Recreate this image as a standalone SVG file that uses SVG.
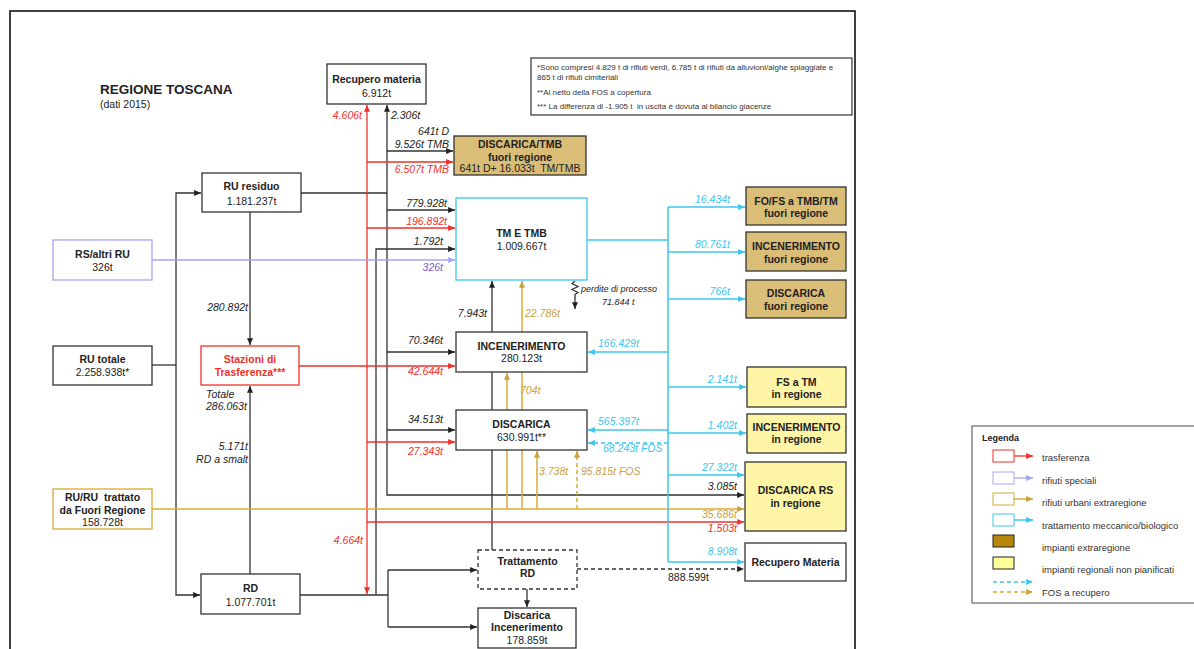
<svg xmlns="http://www.w3.org/2000/svg" width="1194" height="649" viewBox="0 0 1194 649">
<style>
text{font-family:"Liberation Sans",Arial,sans-serif;fill:#222;white-space:pre}
.b{font-weight:bold;font-size:10.5px}
.v{font-size:10.5px}
.t{font-size:10.5px;text-anchor:middle}
.tb{font-size:10.5px;font-weight:bold;text-anchor:middle}
.l{font-size:10.5px;font-style:italic}
.r{text-anchor:end}
.red{fill:#F0302A}
.cy{fill:#3CC6EE}
.go{fill:#C9A13E}
.pu{fill:#7B5CC8}
.box{fill:#fff;stroke:#333;stroke-width:1.3}
.tan{fill:#DABD76;stroke:#333;stroke-width:1.3}
.yel{fill:#FFF5A6;stroke:#333;stroke-width:1.3}
.k{fill:none;stroke:#333;stroke-width:1.3}
.kr{fill:none;stroke:#F0302A;stroke-width:1.3}
.kc{fill:none;stroke:#3CC6EE;stroke-width:1.5}
.kg{fill:none;stroke:#D8AA36;stroke-width:1.5}
.kp{fill:none;stroke:#A6A6F5;stroke-width:1.3}
.d{stroke-dasharray:4 3}
.n{font-size:8px;fill:#333}
.lg{font-size:9.5px;fill:#333}
</style>
<defs>
<marker id="ak" viewBox="0 0 8 7" refX="8" refY="3.5" markerWidth="7" markerHeight="6" markerUnits="userSpaceOnUse" orient="auto"><path d="M0,0 L8,3.5 L0,7 z" fill="#222"/></marker>
<marker id="ar" viewBox="0 0 8 7" refX="8" refY="3.5" markerWidth="7" markerHeight="6" markerUnits="userSpaceOnUse" orient="auto"><path d="M0,0 L8,3.5 L0,7 z" fill="#F0302A"/></marker>
<marker id="ac" viewBox="0 0 8 7" refX="8" refY="3.5" markerWidth="7" markerHeight="6" markerUnits="userSpaceOnUse" orient="auto"><path d="M0,0 L8,3.5 L0,7 z" fill="#3CC6EE"/></marker>
<marker id="ag" viewBox="0 0 8 7" refX="8" refY="3.5" markerWidth="7" markerHeight="6" markerUnits="userSpaceOnUse" orient="auto"><path d="M0,0 L8,3.5 L0,7 z" fill="#C9A13E"/></marker>
<marker id="ap" viewBox="0 0 8 7" refX="8" refY="3.5" markerWidth="7" markerHeight="6" markerUnits="userSpaceOnUse" orient="auto"><path d="M0,0 L8,3.5 L0,7 z" fill="#A6A6F5"/></marker>
</defs>
<rect width="1194" height="649" fill="#fff"/>
<rect x="10" y="11" width="845" height="660" fill="none" stroke="#111" stroke-width="1.6"/>
<text x="100" y="94" style="font-size:13.5px;font-weight:bold">REGIONE TOSCANA</text>
<text x="100" y="108" style="font-size:10.5px">(dati 2015)</text>

<g id="connectors">
<!-- black -->
<path class="k" d="M152,365 H176"/>
<path class="k" d="M176,365 V193 H201" marker-end="url(#ak)"/>
<path class="k" d="M176,365 V595 H200" marker-end="url(#ak)"/>
<path class="k" d="M301,193 H387"/>
<path class="k" d="M387,193 V105" marker-end="url(#ak)"/>
<path class="k" d="M387,193 V495 H744" marker-end="url(#ak)"/>
<path class="k" d="M387,151 H453" marker-end="url(#ak)"/>
<path class="k" d="M387,210 H455" marker-end="url(#ak)"/>
<path class="k" d="M387,352 H455" marker-end="url(#ak)"/>
<path class="k" d="M387,430 H455" marker-end="url(#ak)"/>
<path class="k" d="M250,212 V345" marker-end="url(#ak)"/>
<path class="k" d="M250,574 V386" marker-end="url(#ak)"/>
<path class="k" d="M300,595 H388"/>
<path class="k" d="M376,595 V249 H455" marker-end="url(#ak)"/>
<path class="k" d="M388,570 V627"/>
<path class="k" d="M388,570 H477" marker-end="url(#ak)"/>
<path class="k" d="M388,627 H477" marker-end="url(#ak)"/>
<path class="k" d="M492,550 V281" marker-end="url(#ak)"/>
<path class="k" d="M527,589 V607" marker-end="url(#ak)"/>
<path class="k d" d="M577,569 H744" marker-end="url(#ak)"/>
<path class="k" d="M575,281 l-3,2.5 l6,3 l-6,3 l6,3 l-3,2 V309" marker-end="url(#ak)"/>
<!-- red -->
<path class="kr" d="M299,366 H455" marker-end="url(#ar)"/>
<path class="kr" d="M367,366 V105" marker-end="url(#ar)"/>
<path class="kr" d="M367,366 V594" marker-end="url(#ar)"/>
<path class="kr" d="M367,162 H453" marker-end="url(#ar)"/>
<path class="kr" d="M367,228 H455" marker-end="url(#ar)"/>
<path class="kr" d="M367,442 H455" marker-end="url(#ar)"/>
<path class="kr" d="M367,522 H744" marker-end="url(#ar)"/>
<!-- purple -->
<path class="kp" d="M152,260 H455" marker-end="url(#ap)"/>
<!-- gold -->
<path class="kg" d="M152,509 H744" marker-end="url(#ag)"/>
<path class="kg" d="M507,509 V373" marker-end="url(#ag)"/>
<path class="kg" d="M522,509 V281" marker-end="url(#ag)"/>
<path class="kg" d="M537,509 V451" marker-end="url(#ag)"/>
<path class="kg d" d="M577,509 V451" marker-end="url(#ag)"/>
<!-- cyan -->
<path class="kc" d="M587,240 H668"/>
<path class="kc" d="M668,207 V562"/>
<path class="kc" d="M668,207 H745" marker-end="url(#ac)"/>
<path class="kc" d="M668,252 H745" marker-end="url(#ac)"/>
<path class="kc" d="M668,299 H745" marker-end="url(#ac)"/>
<path class="kc" d="M668,387 H746" marker-end="url(#ac)"/>
<path class="kc" d="M668,433 H746" marker-end="url(#ac)"/>
<path class="kc" d="M668,475 H744" marker-end="url(#ac)"/>
<path class="kc" d="M668,562 H744" marker-end="url(#ac)"/>
<path class="kc" d="M668,352 H588" marker-end="url(#ac)"/>
<path class="kc" d="M668,430 H588" marker-end="url(#ac)"/>
<path class="kc d" d="M668,443 H588" marker-end="url(#ac)"/>
</g>

<g id="flow-labels">
<text class="l red r" x="362" y="119">4.606t</text>
<text class="l" x="391" y="119">2.306t</text>
<text class="l r" x="449" y="135">641t D</text>
<text class="l r" x="449" y="148">9.526t TMB</text>
<text class="l red r" x="449" y="173">6.507t TMB</text>
<text class="l r" x="447" y="207">779.928t</text>
<text class="l red r" x="447" y="225">196.892t</text>
<text class="l r" x="443" y="245">1.792t</text>
<text class="l pu r" x="443" y="271">326t</text>
<text class="l r" x="487" y="317">7.943t</text>
<text class="l go" x="525" y="317">22.786t</text>
<text class="l" x="581" y="292" style="font-size:9px">perdite di processo</text>
<text class="l" x="602" y="305" style="font-size:9px">71.844 t</text>
<text class="l r" x="443" y="344">70.346t</text>
<text class="l red r" x="443" y="375">42.644t</text>
<text class="l cy" x="598" y="347">166.429t</text>
<text class="l go" x="520" y="394">704t</text>
<text class="l r" x="443" y="423">34.513t</text>
<text class="l red r" x="443" y="455">27.343t</text>
<text class="l cy" x="598" y="425">565.397t</text>
<text class="l cy" x="603" y="452">68.243t FOS</text>
<text class="l go" x="539" y="475">3.738t</text>
<text class="l go" x="581" y="475">95.815t FOS</text>
<text class="l cy r" x="730" y="203">16.434t</text>
<text class="l cy r" x="730" y="248">80.761t</text>
<text class="l cy r" x="730" y="295">766t</text>
<text class="l cy r" x="737" y="383">2.141t</text>
<text class="l cy r" x="737" y="429">1.402t</text>
<text class="l cy r" x="737" y="471">27.322t</text>
<text class="l r" x="737" y="490">3.085t</text>
<text class="l go r" x="737" y="518">35.686t</text>
<text class="l red r" x="737" y="532">1.503t</text>
<text class="l cy r" x="737" y="555">8.908t</text>
<text class="v" x="668" y="581">888.599t</text>
<text class="l red r" x="363" y="544">4.664t</text>
<text class="l r" x="248" y="311">280.892t</text>
<text class="l" x="206" y="398">Totale</text>
<text class="l" x="206" y="410">286.063t</text>
<text class="l r" x="248" y="450">5.171t</text>
<text class="l r" x="248" y="463">RD a smalt</text>
</g>

<g id="recupero-materia"><rect class="box" x="327" y="64" width="99" height="40"/><text class="tb" x="376.5" y="83">Recupero materia</text><text class="t" x="376.5" y="97">6.912t</text></g>
<g id="discarica-tmb-fuori"><rect class="tan" x="454" y="136" width="132" height="39"/><text class="tb" x="520" y="148">DISCARICA/TMB</text><text class="tb" x="520" y="161">fuori regione</text><text class="t" x="520" y="172">641t D+ 16.033t  TM/TMB</text></g>
<g id="ru-residuo"><rect class="box" x="202" y="173" width="99" height="39"/><text class="tb" x="251.5" y="190">RU residuo</text><text class="t" x="251.5" y="205">1.181.237t</text></g>
<g id="tm-tmb"><rect x="456" y="198" width="131" height="82" fill="#fff" stroke="#3CC6EE" stroke-width="1.3"/><text class="tb" x="521.5" y="237">TM E TMB</text><text class="t" x="521.5" y="250">1.009.667t</text></g>
<g id="rs-altri"><rect x="53" y="240" width="99" height="40" fill="#fff" stroke="#A6A6F5" stroke-width="1.3"/><text class="tb" x="102.5" y="258">RS/altri RU</text><text class="t" x="102.5" y="271">326t</text></g>
<g id="ru-totale"><rect class="box" x="53" y="346" width="99" height="39"/><text class="tb" x="102.5" y="363">RU totale</text><text class="t" x="102.5" y="376">2.258.938t*</text></g>
<g id="stazioni"><rect x="201" y="346" width="98" height="39" fill="#fff" stroke="#F0302A" stroke-width="1.3"/><text class="tb red" x="250" y="363">Stazioni di</text><text class="tb red" x="250" y="376">Trasferenza***</text></g>
<g id="incenerimento"><rect class="box" x="456" y="332" width="131" height="40"/><text class="tb" x="521.5" y="350">INCENERIMENTO</text><text class="t" x="521.5" y="362">280.123t</text></g>
<g id="discarica"><rect class="box" x="456" y="410" width="131" height="40"/><text class="tb" x="521.5" y="428">DISCARICA</text><text class="t" x="521.5" y="441">630.991t**</text></g>
<g id="ru-trattato"><rect x="53" y="489" width="99" height="40" fill="#fff" stroke="#D8AA36" stroke-width="1.3"/><text class="tb" x="102.5" y="501">RU/RU  trattato</text><text class="tb" x="102.5" y="514">da Fuori Regione</text><text class="t" x="102.5" y="526">158.728t</text></g>
<g id="rd"><rect class="box" x="201" y="574" width="99" height="40"/><text class="tb" x="250.5" y="592">RD</text><text class="t" x="250.5" y="606">1.077.701t</text></g>
<g id="trattamento-rd"><rect class="box d" x="478" y="550" width="99" height="39"/><text class="tb" x="527.5" y="565">Trattamento</text><text class="tb" x="527.5" y="577">RD</text></g>
<g id="discarica-incenerimento"><rect class="box" x="478" y="608" width="98" height="40"/><text class="tb" x="527" y="619">Discarica</text><text class="tb" x="527" y="631">Incenerimento</text><text class="t" x="527" y="644">178.859t</text></g>
<g id="fofs-fuori"><rect class="tan" x="746" y="187" width="100" height="38"/><text class="tb" x="796" y="205">FO/FS a TMB/TM</text><text class="tb" x="796" y="217">fuori regione</text></g>
<g id="incen-fuori"><rect class="tan" x="746" y="232" width="100" height="39"/><text class="tb" x="796" y="250">INCENERIMENTO</text><text class="tb" x="796" y="263">fuori regione</text></g>
<g id="disc-fuori"><rect class="tan" x="746" y="280" width="100" height="38"/><text class="tb" x="796" y="297">DISCARICA</text><text class="tb" x="796" y="310">fuori regione</text></g>
<g id="fs-tm-regione"><rect class="yel" x="747" y="367" width="99" height="40"/><text class="tb" x="796.5" y="386">FS a TM</text><text class="tb" x="796.5" y="398">in regione</text></g>
<g id="incen-regione"><rect class="yel" x="747" y="414" width="99" height="39"/><text class="tb" x="796.5" y="431">INCENERIMENTO</text><text class="tb" x="796.5" y="443">in regione</text></g>
<g id="discarica-rs"><rect class="yel" x="745" y="462" width="101" height="69"/><text class="tb" x="795.5" y="494">DISCARICA RS</text><text class="tb" x="795.5" y="507">in regione</text></g>
<g id="recupero-materia-2"><rect class="box" x="745" y="543" width="101" height="38"/><text class="tb" x="795.5" y="566">Recupero Materia</text></g>

<g id="notes"><rect x="531" y="58" width="321" height="57" fill="#fff" stroke="#333" stroke-width="1.2"/>
<text class="n" x="537" y="70">*Sono compresi 4.829 t di rifiuti verdi, 6.785 t di rifiuti da alluvioni/alghe spiaggiate e</text>
<text class="n" x="537" y="80">865 t di rifiuti cimiteriali</text>
<text class="n" x="537" y="95">**Al netto della FOS a copertura</text>
<text class="n" x="537" y="109">*** La differenza di -1.905 t  in uscita è dovuta al bilancio giacenze</text></g>

<g id="legend"><rect x="972" y="426" width="240" height="177" fill="#fff" stroke="#666" stroke-width="1.2"/>
<text x="982" y="441" style="font-size:9px;font-weight:bold;fill:#222">Legenda</text>
<rect x="993" y="450" width="21" height="12" fill="#fff" stroke="#F0302A"/><path class="kr" d="M1014,456 H1033" marker-end="url(#ar)"/><text class="lg" x="1042" y="461">trasferenza</text>
<rect x="993" y="472" width="21" height="12" fill="#fff" stroke="#A6A6F5"/><path class="kp" d="M1014,478 H1033" marker-end="url(#ap)"/><text class="lg" x="1042" y="484">rifiuti speciali</text>
<rect x="993" y="493" width="21" height="12" fill="#fff" stroke="#D8AA36"/><path class="kg" d="M1014,499 H1033" marker-end="url(#ag)"/><text class="lg" x="1042" y="506">rifiuti urbani extraregione</text>
<rect x="993" y="514" width="21" height="12" fill="#fff" stroke="#3CC6EE"/><path class="kc" d="M1014,520 H1033" marker-end="url(#ac)"/><text class="lg" x="1042" y="529">trattamento meccanico/biologico</text>
<rect x="993" y="535" width="21" height="12" fill="#B8860B" stroke="#222"/><text class="lg" x="1042" y="551">impianti extraregione</text>
<rect x="993" y="557" width="21" height="12" fill="#FFFF99" stroke="#222"/><text class="lg" x="1042" y="573">impianti regionali non pianificati</text>
<path class="kc d" d="M993,582 H1033" marker-end="url(#ac)"/>
<path class="kg d" d="M993,592 H1033" marker-end="url(#ag)"/><text class="lg" x="1042" y="596">FOS a recupero</text></g>
</svg>
